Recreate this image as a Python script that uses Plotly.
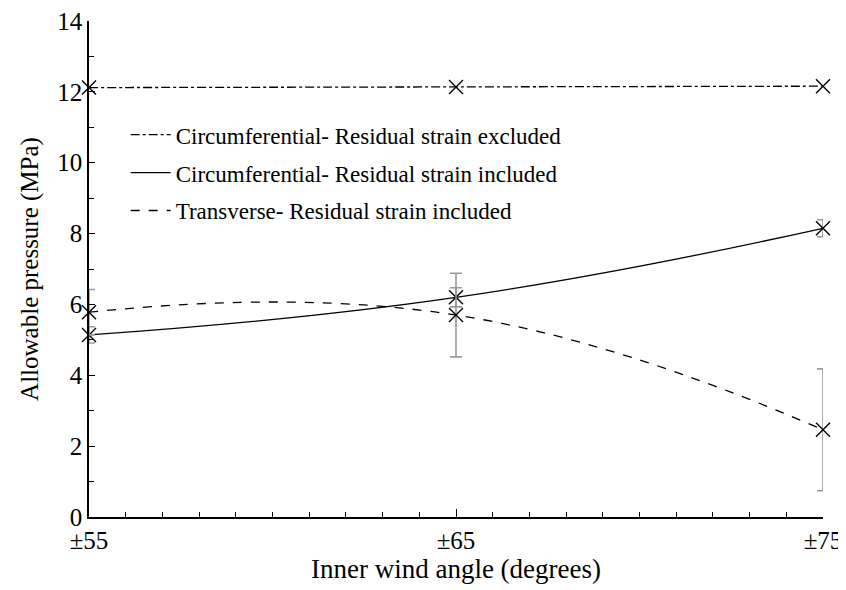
import plotly.graph_objects as go

angles = [55, 65, 75]
tick_labels = ["±55", "±65", "±75"]

circ_excl = [12.12, 12.14, 12.16]
circ_incl = [5.14, 6.20, 8.15]
circ_incl_err = [0.23, 0.27, 0.24]
trans_incl = [5.78, 5.70, 2.46]
trans_incl_err = [0.64, 1.18, 1.72]

names = [
    "Circumferential- Residual strain excluded",
    "Circumferential- Residual strain included",
    "Transverse- Residual strain included",
]

FONT = "Liberation Serif"
fig = go.Figure()

series = [
    (circ_excl, None, "dashdot", names[0]),
    (circ_incl, circ_incl_err, "solid", names[1]),
    (trans_incl, trans_incl_err, "dash", names[2]),
]

for ys, errs, dash, name in series:
    fig.add_trace(go.Scatter(
        x=angles, y=ys, mode="lines", name=name, legendgroup=name,
        line=dict(color="black", width=1.3, dash=dash, shape="spline", smoothing=1.3),
        showlegend=True,
    ))

for ys, errs, dash, name in series:
    fig.add_trace(go.Scatter(
        x=angles, y=ys, mode="markers", showlegend=False, legendgroup=name,
        marker=dict(symbol="x-thin", size=14, line=dict(color="black", width=1.4)),
        error_y=(dict(type="data", array=errs, visible=True, color="#9a9a9a",
                      thickness=1.6, width=6) if errs else None),
        cliponaxis=False,
    ))

fig.update_layout(
    width=838, height=582,
    margin=dict(l=81, r=23, t=13, b=73, autoexpand=False),
    paper_bgcolor="white", plot_bgcolor="white",
    font=dict(family=FONT, color="black", size=22),
    showlegend=True,
    legend=dict(x=0.05, y=0.814, xanchor="left", yanchor="top",
                bgcolor="rgba(0,0,0,0)", font=dict(family=FONT, size=23),
                traceorder="grouped", tracegroupgap=5, itemwidth=40),
    xaxis=dict(range=[55, 75], tickvals=angles, ticktext=tick_labels,
               ticks="inside", ticklen=8, tickwidth=1.2, tickcolor="black",
               minor=dict(dtick=1, ticks="inside", ticklen=5, tickwidth=1, tickcolor="black"),
               showline=True, linecolor="black", linewidth=1.5, showgrid=False, zeroline=False,
               tickfont=dict(size=25, family=FONT), automargin=False, ticklabeloverflow="allow",
               title=dict(text="Inner wind angle (degrees)", font=dict(size=27, family=FONT), standoff=2)),
    yaxis=dict(range=[0, 14], tickvals=[0, 2, 4, 6, 8, 10, 12, 14],
               ticks="inside", ticklen=6, tickwidth=1.2, tickcolor="black",
               minor=dict(dtick=1, ticks="inside", ticklen=5, tickwidth=1, tickcolor="black"),
               showline=True, linecolor="black", linewidth=1.5, showgrid=False, zeroline=False,
               tickfont=dict(size=25, family=FONT), automargin=False, ticklabeloverflow="allow",
               title=dict(text="Allowable pressure (MPa)", font=dict(size=25, family=FONT), standoff=12)),
)

fig.write_html("out.html")
